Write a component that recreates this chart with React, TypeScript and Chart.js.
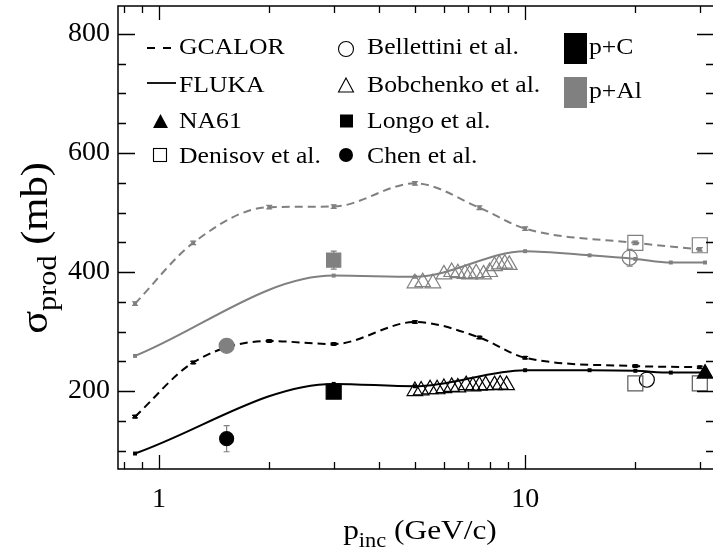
import React, { useEffect, useRef } from 'react';
import { Chart, registerables } from 'chart.js';

Chart.register(...registerables);

const FONT = '"Liberation Serif", "Times New Roman", serif';
const GRAY = '#808080';
const DARKGRAY = '#5a5a5a';
const BLACK = '#000000';

// axis ranges and ticks
const X_MIN = 0.7727;
const X_MAX = 32.8;
const Y_MIN = 69;
const Y_MAX = 847;
const xMajorTicks = [1, 10];
const xMinorTicks = [0.8, 0.9, 2, 3, 4, 5, 6, 7, 8, 9, 20, 30];
const yMajorTicks = [200, 400, 600, 800];
const yMinorTicks = [100, 150, 250, 300, 350, 450, 500, 550, 650, 700, 750];

// model calculations
const gcalorP = [0.86, 1.24, 2, 3, 5, 7.5, 10, 20, 30];
const gcalorAl = [347, 449, 509, 510, 549, 508, 473, 449, 438];
const gcalorAlErr = [3, 3, 3, 3, 3, 3, 3, 3, 3];
const gcalorC = [157, 248, 284, 279, 316, 290, 256, 242, 240];
const gcalorCErr = [2, 2, 2, 2, 2, 2, 2, 2, 2];
const flukaP = [0.86, 3, 5, 10, 15, 20, 25, 31];
const flukaAl = [259, 394, 392, 435, 428, 422, 416, 416];
const flukaC = [95, 212, 208, 235, 235, 234, 231, 231];

// measurements
const na61P = [31];
const na61C = [229.3];
const denisovP = [20, 30];
const denisovAl = [449, 445];
const denisovC = [213, 213];
const bellettiniAlP = [19.3];
const bellettiniAl = [424];
const bellettiniAlErr = [14];
const bellettiniCP = [21.5];
const bellettiniC = [219];
const bobchenkoAlP = [5.0, 5.25, 5.6, 6.0, 6.3, 6.55, 6.85, 7.05, 7.35, 7.7, 8.0, 8.25, 8.5, 8.8, 9.05];
const bobchenkoAl = [381, 383, 381, 396, 400, 398, 397, 396, 398, 396, 400, 410, 413, 414, 412];
const bobchenkoCP = [5.0, 5.2, 5.5, 5.75, 6.0, 6.3, 6.55, 6.9, 7.2, 7.5, 7.8, 8.25, 8.55, 8.9];
const bobchenkoC = [200, 201, 203, 203, 205, 207, 206, 210, 208, 209, 210, 210, 211, 210];
const longoP = [3];
const longoAl = [420];
const longoAlErr = [15];
const longoC = [199];
const chenP = [1.53];
const chenAl = [276];
const chenC = [120];
const chenCErr = [22];

// legend texts
const legendCol1 = ['GCALOR', 'FLUKA', 'NA61', 'Denisov et al.'];
const legendCol2 = ['Bellettini et al.', 'Bobchenko et al.', 'Longo et al.', 'Chen et al.'];
const legendTargets = ['p+C', 'p+Al'];

const pts = (xs: number[], ys: number[]) => xs.map((x, i) => ({ x, y: ys[i] }));

function marker(label: string, xs: number[], ys: number[], style: string, color: string, filled: boolean, radius: number, errors?: number[], errorColor?: string) {
  return {
    label,
    data: pts(xs, ys),
    showLine: false,
    pointStyle: style,
    pointRadius: radius,
    pointHoverRadius: radius,
    pointBorderColor: color,
    pointBackgroundColor: filled ? color : 'rgba(0,0,0,0)',
    pointBorderWidth: 1.2,
    borderColor: color,
    backgroundColor: filled ? color : 'rgba(0,0,0,0)',
    errors,
    errorColor,
  } as any;
}

function model(label: string, xs: number[], ys: number[], color: string, dashed: boolean, errors?: number[]) {
  return {
    label,
    data: pts(xs, ys),
    showLine: true,
    borderColor: color,
    backgroundColor: color,
    borderWidth: 2,
    borderDash: dashed ? [8, 5] : [],
    cubicInterpolationMode: 'monotone',
    pointStyle: 'rect',
    pointRadius: 2.8,
    pointHoverRadius: 2.8,
    pointBorderWidth: 0,
    pointBackgroundColor: color,
    errors,
    errorColor: color,
  } as any;
}

function sText(ctx: CanvasRenderingContext2D, text: string, x: number, y: number, sx: number) {
  ctx.save();
  ctx.translate(x, y);
  ctx.scale(sx, 1);
  ctx.fillText(text, 0, 0);
  ctx.restore();
}

type Part = { t: string; sub?: boolean };
function drawParts(ctx: CanvasRenderingContext2D, parts: Part[], cx: number, baseY: number, main: number, sub: number, shift: number, sx: number) {
  let total = 0;
  const widths = parts.map((p) => {
    ctx.font = `${p.sub ? sub : main}px ${FONT}`;
    const w = ctx.measureText(p.t).width * sx;
    total += w;
    return w;
  });
  let x = cx - total / 2;
  ctx.textAlign = 'left';
  ctx.textBaseline = 'alphabetic';
  parts.forEach((p, i) => {
    ctx.font = `${p.sub ? sub : main}px ${FONT}`;
    sText(ctx, p.t, x, baseY + (p.sub ? shift : 0), sx);
    x += widths[i];
  });
}

const errorBarPlugin = {
  id: 'errorBars',
  beforeDatasetsDraw(chart: any) {
    const ctx = chart.ctx as CanvasRenderingContext2D;
    const xs = chart.scales.x;
    const ys = chart.scales.y;
    chart.data.datasets.forEach((ds: any) => {
      if (!ds.errors) return;
      ctx.save();
      ctx.strokeStyle = ds.errorColor || ds.borderColor;
      ctx.lineWidth = 1.2;
      ctx.setLineDash([]);
      ds.data.forEach((p: any, j: number) => {
        const e = ds.errors[j];
        if (!e) return;
        const x = xs.getPixelForValue(p.x);
        const y1 = ys.getPixelForValue(p.y - e);
        const y2 = ys.getPixelForValue(p.y + e);
        ctx.beginPath();
        ctx.moveTo(x, y1);
        ctx.lineTo(x, y2);
        ctx.moveTo(x - 3, y1);
        ctx.lineTo(x + 3, y1);
        ctx.moveTo(x - 3, y2);
        ctx.lineTo(x + 3, y2);
        ctx.stroke();
      });
      ctx.restore();
    });
  },
};

const framePlugin = {
  id: 'frameTicks',
  afterDatasetsDraw(chart: any) {
    const ctx = chart.ctx as CanvasRenderingContext2D;
    const { left, right, top, bottom } = chart.chartArea;
    const xs = chart.scales.x;
    const ys = chart.scales.y;
    ctx.save();
    ctx.strokeStyle = BLACK;
    ctx.lineWidth = 1.5;
    ctx.setLineDash([]);
    ctx.beginPath();
    ctx.rect(left, top, right - left, bottom - top);
    ctx.stroke();
    ctx.lineWidth = 1.3;
    ctx.beginPath();
    const xt = (v: number, len: number) => {
      const x = Math.round(xs.getPixelForValue(v)) + 0.5;
      ctx.moveTo(x, bottom);
      ctx.lineTo(x, bottom - len);
      ctx.moveTo(x, top);
      ctx.lineTo(x, top + len);
    };
    const yt = (v: number, len: number) => {
      const y = Math.round(ys.getPixelForValue(v)) + 0.5;
      ctx.moveTo(left, y);
      ctx.lineTo(left + len, y);
      ctx.moveTo(right, y);
      ctx.lineTo(right - len, y);
    };
    xMajorTicks.forEach((v) => xt(v, 14));
    xMinorTicks.forEach((v) => xt(v, 7));
    yMajorTicks.forEach((v) => yt(v, 17));
    yMinorTicks.forEach((v) => yt(v, 8));
    ctx.stroke();
    ctx.restore();
  },
};

const decorPlugin = {
  id: 'decor',
  afterDraw(chart: any) {
    const ctx = chart.ctx as CanvasRenderingContext2D;
    ctx.save();
    ctx.fillStyle = BLACK;
    // x axis title
    drawParts(ctx, [{ t: 'p' }, { t: 'inc', sub: true }, { t: ' (GeV/c)' }], 420, 539, 28, 20, 8, 1.12);
    // y axis title (rotated)
    ctx.save();
    ctx.translate(47, 248);
    ctx.rotate(-Math.PI / 2);
    drawParts(ctx, [{ t: 'σ' }, { t: 'prod', sub: true }, { t: ' (mb)' }], 0, 0, 38, 27, 9, 1.12);
    ctx.restore();

    // legend
    ctx.font = `24px ${FONT}`;
    ctx.textAlign = 'left';
    ctx.textBaseline = 'middle';
    const rows = [47, 85, 121, 156];
    const sx = 1.07;
    legendCol1.forEach((t, i) => sText(ctx, t, 179, rows[i] + 1, sx));
    legendCol2.forEach((t, i) => sText(ctx, t, 367, rows[i] + 1, sx));
    sText(ctx, legendTargets[0], 589, 48, sx);
    sText(ctx, legendTargets[1], 589, 92, sx);

    ctx.strokeStyle = BLACK;
    ctx.lineWidth = 1.8;
    // GCALOR dashes
    ctx.beginPath();
    ctx.moveTo(147, 48);
    ctx.lineTo(155, 48);
    ctx.moveTo(163, 48);
    ctx.lineTo(171, 48);
    ctx.stroke();
    // FLUKA line
    ctx.beginPath();
    ctx.moveTo(147, 83);
    ctx.lineTo(176, 83);
    ctx.stroke();
    ctx.lineWidth = 1.1;
    // NA61 filled triangle
    ctx.beginPath();
    ctx.moveTo(160.5, 114);
    ctx.lineTo(168, 128);
    ctx.lineTo(153, 128);
    ctx.closePath();
    ctx.fill();
    // Denisov open square
    ctx.strokeRect(153.5, 148.5, 13, 13);
    // Bellettini open circle
    ctx.beginPath();
    ctx.arc(346, 49, 7.5, 0, Math.PI * 2);
    ctx.stroke();
    // Bobchenko open triangle
    ctx.beginPath();
    ctx.moveTo(346, 78);
    ctx.lineTo(353.5, 92);
    ctx.lineTo(338.5, 92);
    ctx.closePath();
    ctx.stroke();
    // Longo filled square
    ctx.fillRect(340, 114.5, 13, 13);
    // Chen filled circle
    ctx.beginPath();
    ctx.arc(346, 155, 7, 0, Math.PI * 2);
    ctx.fill();
    // target boxes
    ctx.fillStyle = BLACK;
    ctx.fillRect(564, 33, 23, 31);
    ctx.fillStyle = GRAY;
    ctx.fillRect(564, 77, 23, 31);
    ctx.restore();
  },
};

export default function App() {
  const ref = useRef<HTMLCanvasElement | null>(null);
  useEffect(() => {
    if (!ref.current) return;
    document.body.style.margin = '0';
    document.body.style.overflow = 'hidden';
    const datasets = [
      marker('NA61 p+C', na61P, na61C, 'triangle', BLACK, true, 9),
      marker('Longo p+C', longoP, longoC, 'rect', BLACK, true, 10.6),
      marker('Longo p+Al', longoP, longoAl, 'rect', GRAY, true, 10, longoAlErr, GRAY),
      marker('Chen p+C', chenP, chenC, 'circle', BLACK, true, 7, chenCErr, GRAY),
      marker('Chen p+Al', chenP, chenAl, 'circle', GRAY, true, 7.5),
      marker('Denisov p+C', denisovP, denisovC, 'rect', DARKGRAY, false, 10.6),
      marker('Denisov p+Al', denisovP, denisovAl, 'rect', GRAY, false, 10.6),
      marker('Bellettini p+C', bellettiniCP, bellettiniC, 'circle', BLACK, false, 7.5),
      marker('Bellettini p+Al', bellettiniAlP, bellettiniAl, 'circle', GRAY, false, 7.5, bellettiniAlErr, GRAY),
      marker('Bobchenko p+C', bobchenkoCP, bobchenkoC, 'triangle', BLACK, false, 9),
      marker('Bobchenko p+Al', bobchenkoAlP, bobchenkoAl, 'triangle', GRAY, false, 9),
      model('FLUKA p+C', flukaP, flukaC, BLACK, false),
      model('GCALOR p+C', gcalorP, gcalorC, BLACK, true, gcalorCErr),
      model('FLUKA p+Al', flukaP, flukaAl, GRAY, false),
      model('GCALOR p+Al', gcalorP, gcalorAl, GRAY, true, gcalorAlErr),
    ];
    const chart = new Chart(ref.current, {
      type: 'scatter',
      data: { datasets },
      options: {
        responsive: false,
        animation: false,
        events: [],
        layout: { autoPadding: false, padding: { top: 6, right: 2, left: 0, bottom: 0 } },
        plugins: { legend: { display: false }, tooltip: { enabled: false }, title: { display: false } },
        scales: {
          x: {
            type: 'logarithmic',
            min: X_MIN,
            max: X_MAX,
            afterFit: (s: any) => { s.height = 87; s.paddingLeft = 0; s.paddingRight = 0; },
            afterBuildTicks: (s: any) => { s.ticks = xMajorTicks.map((v) => ({ value: v, major: true })); },
            grid: { drawOnChartArea: false, drawTicks: false },
            border: { display: false },
            ticks: {
              autoSkip: false,
              maxRotation: 0,
              padding: 14,
              color: BLACK,
              font: { family: FONT, size: 28 },
              callback: (v: any) => String(v),
            },
          },
          y: {
            type: 'linear',
            min: Y_MIN,
            max: Y_MAX,
            afterFit: (s: any) => { s.width = 118; s.paddingTop = 0; s.paddingBottom = 0; },
            afterBuildTicks: (s: any) => { s.ticks = yMajorTicks.map((v) => ({ value: v })); },
            grid: { drawOnChartArea: false, drawTicks: false },
            border: { display: false },
            ticks: {
              padding: 8,
              color: BLACK,
              font: { family: FONT, size: 28 },
              callback: (v: any) => String(v),
            },
          },
        },
      },
      plugins: [errorBarPlugin, framePlugin, decorPlugin],
    } as any);
    return () => chart.destroy();
  }, []);
  return (
    <div style={{ position: 'fixed', left: 0, top: 0, width: 713, height: 556, overflow: 'hidden', background: '#fff' }}>
      <canvas ref={ref} width={716} height={556} style={{ display: 'block' }} />
    </div>
  );
}
